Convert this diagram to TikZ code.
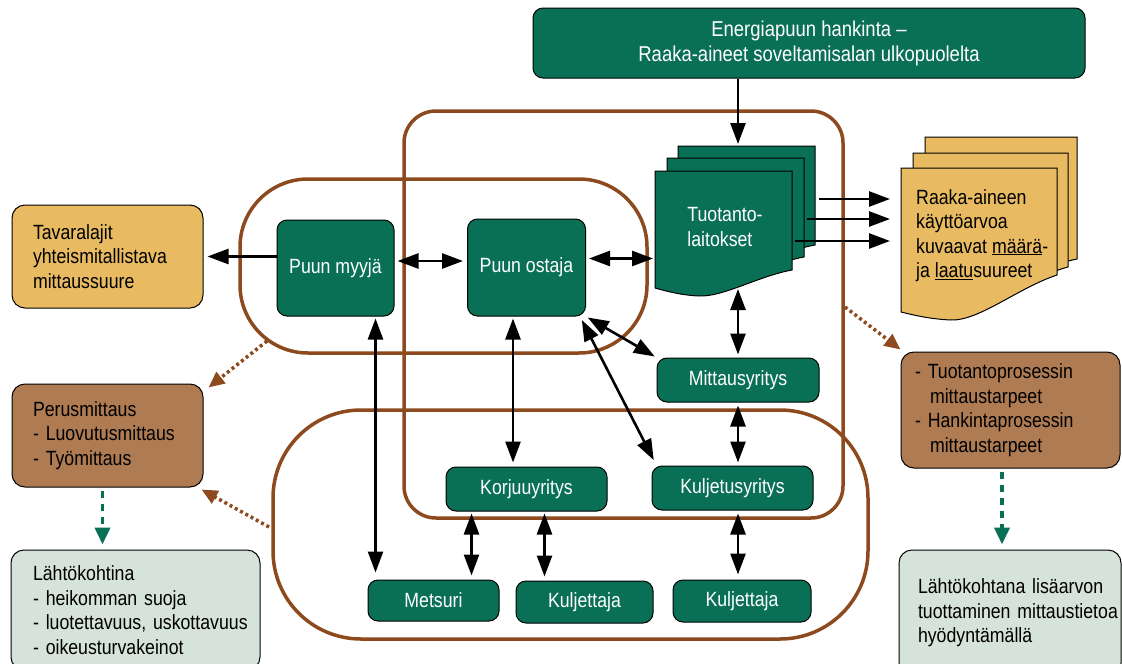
\documentclass[tikz,border=0pt]{standalone}
\usepackage{fontspec}
\setmainfont[FakeStretch=0.86]{Liberation Sans}
\usetikzlibrary{arrows.meta,calc}
\definecolor{gr}{HTML}{0A7055}
\definecolor{brn}{HTML}{8C4A1E}
\definecolor{yel}{HTML}{E8BB62}
\definecolor{bbox}{HTML}{AE7B53}
\definecolor{pale}{HTML}{D5E3DA}
% x, y, w, hL, hR, fill
\newcommand\docsheet[6]{%
 \filldraw[fill=#6, draw=black, line width=1pt] (#1,#2) -- ({#1+#3},#2) -- ({#1+#3},{#2+#5})
 .. controls ({#1+0.75*#3},{#2+#5+0.35*(#4-#5)}) and ({#1+0.5*#3},{#2+#4+9}) .. ({#1+0.32*#3},{#2+#4+8})
 .. controls ({#1+0.18*#3},{#2+#4+7}) and ({#1+0.08*#3},{#2+#4+3}) .. (#1,{#2+#4}) -- cycle;}
\begin{document}
\begin{tikzpicture}[x=1pt,y=-1pt,
  every node/.style={font=\fontsize{20.6}{24.5}\selectfont},
  frame/.style={draw=brn, line width=3.5pt},
  gbox/.style={draw=black, line width=1pt, fill=gr, rounded corners=10pt, text=white, inner sep=0pt, align=center},
  tbox/.style={draw=black, line width=1pt, rounded corners=13pt, align=left, inner ysep=0pt},
  arr/.style={line width=2.6pt, -{Triangle[length=21pt,width=15pt]}},
  dbl/.style={line width=2.6pt, {Triangle[length=21pt,width=15pt]}-{Triangle[length=21pt,width=15pt]}},
  brarr/.style={draw=brn, line width=3.5pt, dash pattern=on 3pt off 3pt, -{Triangle[length=16pt,width=14pt]}},
  grarr/.style={draw=gr, line width=3.8pt, dash pattern=on 7pt off 6pt, -{Triangle[length=17pt,width=15pt]}}]
\useasboundingbox (0,0) rectangle (1122,664);
\clip (0,0) rectangle (1122,664);
\fill[white] (0,0) rectangle (1122,664);

% frames
\draw[frame, rounded corners=32pt] (404,111) rectangle (843,518);
\draw[frame, rounded corners=68pt] (240,179) rectangle (647,353);
\draw[frame, rounded corners=88pt] (273,410) rectangle (868,639);

% production plants (stacked sheets)
\docsheet{678}{146}{137}{117}{99}{gr}
\docsheet{667}{158}{137}{117}{99}{gr}
\docsheet{655}{171}{137}{117}{99}{gr}
\node[text=white, align=left, inner sep=0pt] (tuot) at (725,227) {Tuotanto-\\laitokset};

% yellow stacked sheets
\docsheet{925}{137}{152}{144}{122}{yel}
\docsheet{913}{153}{155}{144}{114}{yel}
\docsheet{901}{168}{156}{144}{107}{yel}
\node[anchor=west, align=left, inner sep=0pt] (raaka) at (916,235.5)
  {Raaka-aineen\\käyttöarvoa\\kuvaavat \underline{määrä}-\\ja \underline{laatu}suureet};

% green boxes
\node[gbox, minimum width=552pt, minimum height=70pt, font=\fontsize{21.5}{25}\selectfont] (energy) at (809,43) {Energiapuun hankinta –\\Raaka-aineet soveltamisalan ulkopuolelta};
\node[gbox, minimum width=117pt, minimum height=96pt] (myyja) at (335.5,268) {Puun myyjä};
\node[gbox, minimum width=118pt, minimum height=97pt] (ostaja) at (526.5,267.5) {Puun ostaja};
\node[gbox, minimum width=162pt, minimum height=44pt] (mittaus) at (738,380) {Mittausyritys};
\node[gbox, minimum width=161pt, minimum height=44pt] (korjuu) at (526.5,489) {Korjuuyritys};
\node[gbox, minimum width=161pt, minimum height=44pt] (kuljetus) at (732.5,488) {Kuljetusyritys};
\node[gbox, minimum width=131pt, minimum height=41pt] (metsuri) at (433.5,600.5) {Metsuri};
\node[gbox, minimum width=137pt, minimum height=42pt] (kulj1) at (584.5,602) {Kuljettaja};
\node[gbox, minimum width=138pt, minimum height=42pt] (kulj2) at (742,601) {Kuljettaja};

% side boxes
\node[tbox, fill=yel, text width=149pt, inner xsep=21pt, minimum height=103pt] (tavara) at (107.5,256.5)
  {Tavaralajit\\\mbox{yhteismitallistava}\\mittaussuure};
\node[tbox, fill=bbox, text width=149pt, inner xsep=21pt, minimum height=103pt] (perus) at (107.5,435.5)
  {Perusmittaus\\\mbox{- Luovutusmittaus}\\- Työmittaus};
\node[tbox, fill=pale, text width=205pt, inner xsep=22pt, minimum height=120pt] (lahto1) at (135.5,610)
  {Lähtökohtina\\- heikomman suoja\\\mbox{- luotettavuus, uskottavuus}\\- oikeusturvakeinot};
\node[tbox, fill=bbox, text width=191pt, inner xsep=14pt, minimum height=116pt] (rbox) at (1010.5,410)
  {\mbox{- Tuotantoprosessin}\\\hspace*{15pt}mittaustarpeet\\\mbox{- Hankintaprosessin}\\\hspace*{15pt}mittaustarpeet};
\node[tbox, fill=pale, text width=184pt, inner xsep=19pt, minimum height=126pt] (lahto2) at (1010,613)
  {\mbox{Lähtökohtana lisäarvon}\\\mbox{tuottaminen mittaustietoa}\\hyödyntämällä};

% coordinates for free ends
\coordinate (tuotTop) at (738,144);
\coordinate (tuotW) at (653,258.5);
\coordinate (tuotS) at (738,289);
\coordinate (o1) at (819,199);
\coordinate (o2) at (807,219);
\coordinate (o3) at (795,241);
\coordinate (sA) at (267,341);
\coordinate (sB) at (269,527);
\coordinate (sC) at (845,307);

% black arrows
\draw[arr] (energy.south -| tuotTop) -- (tuotTop);
\draw[arr, shorten >=4pt] (myyja.west |- tavara.east) -- (tavara.east);
\draw[dbl, shorten <=3pt, shorten >=4pt] ([yshift=7pt]myyja.east) -- ([yshift=7pt]myyja.east -| ostaja.west);
\draw[dbl, shorten <=3pt] ([yshift=9pt]ostaja.east) -- (tuotW);
\draw[dbl, shorten <=2pt, shorten >=7pt] ([xshift=8pt]metsuri.north west |- myyja.south) -- ([xshift=8pt]metsuri.north west);
\draw[dbl, shorten <=2pt, shorten >=4pt] ([xshift=-13.5pt]ostaja.south) -- ([xshift=-13.5pt]korjuu.north);
\draw[dbl, shorten <=2pt, shorten >=2pt] (ostaja.south east) -- (mittaus.north west);
\draw[dbl, shorten <=4pt, shorten >=6pt] ([xshift=-6pt]ostaja.south east) -- ([xshift=5pt]kuljetus.north west);
\draw[dbl, shorten >=3pt] (tuotS) -- (mittaus.north);
\draw[dbl, shorten <=3pt, shorten >=3pt] (mittaus.south) -- (mittaus.south |- kuljetus.north);
\draw[dbl, shorten <=2pt, shorten >=4pt] ([xshift=26pt]korjuu.south west) -- ([xshift=26pt]korjuu.south west |- metsuri.north);
\draw[dbl, shorten <=2pt, shorten >=4pt] ([xshift=99pt]korjuu.south west) -- ([xshift=99pt]korjuu.south west |- kulj1.north);
\draw[dbl, shorten <=3pt, shorten >=5pt] (mittaus.south |- kuljetus.south) -- (mittaus.south |- kulj2.north);
\draw[arr, shorten >=26pt] (o1) -- (o1 -| raaka.west);
\draw[arr, shorten >=26pt] (o2) -- (o2 -| raaka.west);
\draw[arr, shorten >=26pt] (o3) -- (o3 -| raaka.west);

% brown dotted arrows
\draw[brarr] (sA) -- ([shift={(5pt,-4pt)}]perus.north east);
\draw[brarr] (sB) -- ([shift={(-2pt,-2pt)}]perus.south east);
\draw[brarr] (sC) -- ([shift={(0pt,2pt)}]rbox.north west);

% green dashed arrows
\draw[grarr, shorten <=3pt, shorten >=5pt] ([xshift=-5pt]perus.south) -- ([xshift=-5pt]perus.south |- lahto1.north);
\draw[grarr, shorten <=3pt, shorten >=5pt] ([xshift=-8.5pt]rbox.south) -- ([xshift=-8.5pt]rbox.south |- lahto2.north);
\end{tikzpicture}
\end{document}
